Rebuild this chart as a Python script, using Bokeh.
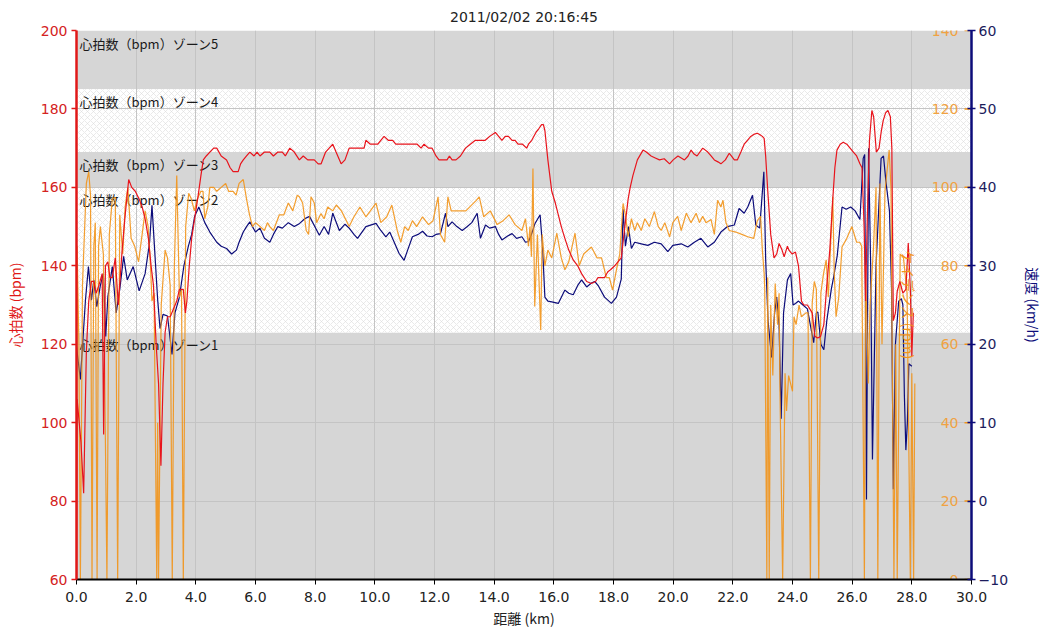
import numpy as np
from bokeh.plotting import figure
from bokeh.models import (LinearAxis, Range1d, FixedTicker, PrintfTickFormatter)
from bokeh.core.properties import value
from bokeh.embed import file_html
from bokeh.resources import INLINE

title_text = "2011/02/02 20:16:45"
x_label = "距離 (km)"
hr_label = "心拍数 (bpm)"
cad_label = "ケイデンス (rpm)"
spd_label = "速度 (km/h)"

x_ticks = [0, 2, 4, 6, 8, 10, 12, 14, 16, 18, 20, 22, 24, 26, 28, 30]
hr_ticks = [60, 80, 100, 120, 140, 160, 180, 200]
cad_ticks = [0, 20, 40, 60, 80, 100, 120, 140]
spd_ticks = [-10, 0, 10, 20, 30, 40, 50, 60]

zone_names = ["心拍数（bpm）ゾーン1", "心拍数（bpm）ゾーン2", "心拍数（bpm）ゾーン3",
              "心拍数（bpm）ゾーン4", "心拍数（bpm）ゾーン5"]
zone_lo = [60, 123, 160, 169, 185]
zone_hi = [123, 160, 169, 185, 200]
zone_hatched = [False, True, False, True, False]

hr_km = [0.00, 0.02, 0.15, 0.24, 0.33, 0.41, 0.5, 0.58, 0.66, 0.75, 0.86, 0.91, 0.97, 1.05, 1.12, 1.2,
         1.3, 1.4, 1.53, 1.62, 1.75, 1.85, 1.97, 2.1, 2.2, 2.3, 2.41, 2.5, 2.58, 2.67, 2.75, 2.83, 2.9,
         2.97, 3.05, 3.14, 3.25, 3.36, 3.45, 3.58, 3.65, 3.7, 3.78, 3.86, 3.96, 4.08, 4.17, 4.25, 4.35,
         4.47, 4.6, 4.7, 4.85, 5.03, 5.15, 5.25, 5.34, 5.42, 5.5, 5.59, 5.7, 5.81, 5.95, 6.05, 6.15,
         6.3, 6.48, 6.6, 6.75, 6.9, 7.0, 7.15, 7.3, 7.47, 7.6, 7.75, 7.97, 8.1, 8.2, 8.35, 8.47, 8.59,
         8.7, 8.87, 9.0, 9.14, 9.3, 9.5, 9.64, 9.7, 9.85, 10.0, 10.1, 10.2, 10.31, 10.45, 10.6, 10.7,
         10.8, 10.95, 11.1, 11.25, 11.42, 11.55, 11.65, 11.8, 11.92, 12.05, 12.15, 12.3, 12.42, 12.5,
         12.59, 12.72, 12.87, 13.04, 13.2, 13.37, 13.55, 13.7, 13.85, 14.04, 14.15, 14.26, 14.37,
         14.48, 14.6, 14.7, 14.8, 14.95, 15.09, 15.15, 15.26, 15.4, 15.5, 15.59, 15.65, 15.7, 15.8,
         15.93, 16.05, 16.15, 16.25, 16.37, 16.5, 16.65, 16.8, 16.93, 17.1, 17.26, 17.4, 17.48, 17.59,
         17.7, 17.81, 17.9, 18.04, 18.15, 18.26, 18.35, 18.49, 18.56, 18.65, 18.8, 18.99, 19.1, 19.26,
         19.4, 19.54, 19.7, 19.88, 20.0, 20.16, 20.27, 20.38, 20.5, 20.6, 20.7, 20.8, 20.99, 21.16,
         21.27, 21.38, 21.5, 21.6, 21.75, 21.88, 21.95, 22.05, 22.15, 22.27, 22.38, 22.49, 22.6, 22.7,
         22.82, 22.9, 22.99, 23.05, 23.1, 23.18, 23.27, 23.38, 23.47, 23.55, 23.65, 23.72, 23.83,
         23.88, 23.99, 24.1, 24.2, 24.3, 24.38, 24.5, 24.58, 24.66, 24.75, 24.85, 24.94, 25.05, 25.15,
         25.25, 25.35, 25.42, 25.49, 25.6, 25.7, 25.82, 25.93, 26.04, 26.15, 26.26, 26.33, 26.4,
         26.45, 26.5, 26.58, 26.66, 26.72, 26.81, 26.9, 26.97, 27.04, 27.12, 27.2, 27.28, 27.33,
         27.38, 27.45, 27.51, 27.6, 27.7, 27.8, 27.88, 27.95, 28.0, 28.05]
hr_bpm = [58, 106, 95, 82, 118, 131, 136, 136, 133, 135, 138, 97, 140, 141, 137, 137,
          142, 130, 144, 152, 162, 160, 159, 157, 155, 152, 147, 140, 135, 120, 110, 89, 110,
          123, 127, 127, 129, 131, 134, 134, 128, 131, 140, 147, 152, 158, 163, 167, 168,
          169, 170, 170, 168, 167, 165, 164, 164, 164, 166, 167, 168, 169, 168, 169, 168,
          169, 169, 168, 169, 169, 168, 170, 169, 167, 168, 167, 167, 166, 166, 169, 170, 171,
          169, 166, 167, 170, 170, 170, 170, 172, 171, 171, 171, 172, 173, 172, 172, 171,
          171, 171, 171, 171, 171, 170, 171, 170, 170, 168, 167, 167, 167, 168,
          167, 167, 168, 170, 171, 172, 172, 172, 173, 174, 173, 172, 173,
          173, 172, 172, 171, 171, 170, 171, 172, 174, 175, 176, 176, 174.5, 167,
          159, 156, 153, 150, 147, 144, 141.5, 140, 138, 136, 135.5, 136, 137, 137,
          137, 138.5, 139, 140, 141, 142, 148, 157, 160, 163, 167, 169.5, 169, 168,
          167.5, 167, 167.3, 166, 167, 168, 167.5, 167, 168, 169.5, 168.5, 168, 170, 169,
          168, 167, 166.5, 166, 167, 168.7, 168, 167, 167, 169, 171, 172, 173, 173.5,
          173.8, 173.5, 173, 172.5, 168, 158, 148, 142, 143, 145.7, 144, 142.3, 145,
          144, 143, 143.5, 140, 131, 130, 130, 129, 128, 122, 121.6, 122, 125, 135,
          144, 157, 165, 169.5, 171, 171.5, 171, 170, 169, 168, 166, 165, 150,
          131, 150, 172, 179.6, 178, 169, 170, 174, 177, 179, 179.6, 178, 170,
          126, 128, 133.5, 136, 133, 134, 145.8, 134, 117, 128]

spd_km = [0.00, 0.13, 0.3, 0.4, 0.5, 0.58, 0.68, 0.8, 0.9, 0.98, 1.05, 1.2, 1.33, 1.45, 1.58, 1.7,
          1.9, 2.1, 2.3, 2.45, 2.53, 2.62, 2.72, 2.8, 2.9, 3.05, 3.2, 3.3, 3.45, 3.6, 3.75, 3.86,
          3.96, 4.1, 4.3, 4.47, 4.7, 4.85, 5.03, 5.2, 5.36, 5.45, 5.59, 5.7, 5.81, 6.0, 6.15, 6.3,
          6.48, 6.6, 6.75, 6.9, 7.1, 7.3, 7.48, 7.65, 7.81, 8.14, 8.3, 8.45, 8.59, 8.81, 9.0, 9.14,
          9.3, 9.42, 9.7, 10.04, 10.2, 10.37, 10.5, 10.65, 10.81, 10.98, 11.1, 11.26, 11.45, 11.6,
          11.75, 11.92, 12.05, 12.2, 12.37, 12.45, 12.59, 12.75, 12.93, 13.1, 13.25, 13.43, 13.54,
          13.71, 13.85, 14.04, 14.15, 14.26, 14.45, 14.6, 14.75, 14.93, 15.05, 15.15, 15.25, 15.37,
          15.54, 15.62, 15.7, 15.8, 15.93, 16.15, 16.37, 16.5, 16.65, 16.8, 16.93, 17.1, 17.26,
          17.37, 17.5, 17.7, 17.93, 18.1, 18.26, 18.32, 18.4, 18.5, 18.6, 18.71, 18.93, 19.15,
          19.37, 19.6, 19.82, 19.99, 20.27, 20.49, 20.71, 20.93, 21.16, 21.38, 21.6, 21.82, 22.05,
          22.21, 22.38, 22.5, 22.66, 22.77, 22.9, 23.04, 23.1, 23.18, 23.3, 23.4, 23.47, 23.55,
          23.62, 23.7, 23.83, 23.94, 24.02, 24.1, 24.2, 24.35, 24.5, 24.62, 24.71, 24.8, 24.85,
          24.95, 25.05, 25.15, 25.3, 25.38, 25.5, 25.66, 25.8, 25.95, 26.1, 26.26, 26.37, 26.42,
          26.48, 26.55, 26.62, 26.68, 26.8, 26.97, 27.05, 27.13, 27.25, 27.32, 27.38, 27.45,
          27.56, 27.65, 27.7, 27.75, 27.8, 27.85, 27.9, 28.0]
spd_kmh = [19.7, 15.5, 25.6, 29.9, 25.6, 28.2, 24.8, 27.5, 29.0, 21.0, 26.0, 29.9, 24.0, 27.0, 31.2, 28.2,
           29.9, 26.8, 29.0, 33.0, 37.7, 32.0, 25.7, 22.0, 23.8, 23.6, 18.7, 24.0, 26.0, 30.0, 32.5, 34.0,
           36.3, 37.5, 35.5, 34.3, 33.0, 32.5, 32.2, 31.5, 32.0, 33.0, 34.3, 35.0, 35.6, 34.3, 34.8, 33.5,
           33.0, 34.0, 35.0, 34.8, 35.5, 35.0, 35.4, 36.0, 36.3, 33.9, 35.0, 34.0, 36.7, 34.5, 35.3, 34.8,
           34.0, 33.5, 35.0, 35.4, 34.5, 33.7, 34.3, 33.0, 31.6, 30.7, 32.0, 33.7, 34.0, 34.4,
           33.8, 33.7, 34.0, 34.1, 36.7, 35.0, 35.6, 35.0, 34.5, 35.0, 35.5, 36.7, 33.5,
           35.2, 34.8, 35.0, 34.0, 33.3, 33.8, 34.1, 33.5, 33.7, 33.0, 33.1, 34.0, 35.4,
           36.5, 32.5, 26.0, 25.5, 25.4, 25.2, 26.9, 26.5, 26.3, 27.5, 28.2, 27.3, 27.8,
           28.0, 27.4, 26.0, 25.2, 26.0, 28.3, 37.2, 32.5, 35.0, 32.2, 33.0, 32.8, 32.6,
           33.0, 32.8, 31.8, 32.6, 32.8, 32.4, 33.0, 33.5, 32.4, 33.0, 34.3, 35.0, 35.2,
           37.3, 36.7, 37.5, 39.0, 35.2, 34.8, 42.0, 30.9, 23.0, 18.3, 24.0, 26.0, 22.5,
           10.5, 24.0, 28.2, 29.0, 25.0, 25.2, 25.5, 25.0, 24.5, 22.0, 20.2, 24.0, 24.1,
           20.0, 19.3, 23.0, 27.0, 28.6, 31.3, 37.5, 37.2, 37.5, 37.0, 35.9, 43.7, 44.2,
           0.2, 45.0, 30.0, 5.3, 30.0, 43.7, 44.0, 40.8, 37.0, 27.0, 1.5, 20.0,
           25.5, 25.8, 25.0, 13.5, 6.5, 10.0, 17.5, 17.2]

cad_km = [0.00, 0.02, 0.08, 0.13, 0.2, 0.33, 0.41, 0.47, 0.52, 0.58, 0.63, 0.69, 0.74, 0.8, 0.9, 1.02,
          1.1, 1.2, 1.3, 1.38, 1.45, 1.55, 1.63, 1.72, 1.83, 1.95, 2.08, 2.2, 2.3, 2.4, 2.48, 2.53,
          2.6, 2.69, 2.72, 2.75, 2.84, 2.97, 3.05, 3.14, 3.21, 3.28, 3.36, 3.45, 3.52, 3.58, 3.66,
          3.76, 3.85, 3.95, 4.05, 4.17, 4.24, 4.3, 4.4, 4.47, 4.6, 4.7, 4.85, 5.0, 5.1, 5.25, 5.35,
          5.45, 5.59, 5.7, 5.8, 5.9, 6.0, 6.15, 6.3, 6.4, 6.48, 6.6, 6.8, 6.95, 7.1, 7.25, 7.4, 7.47,
          7.58, 7.7, 7.78, 7.86, 7.97, 8.05, 8.19, 8.3, 8.42, 8.59, 8.71, 8.88, 9.14, 9.3, 9.5, 9.7,
          9.85, 10.04, 10.2, 10.4, 10.57, 10.75, 10.87, 11.0, 11.12, 11.26, 11.4, 11.6, 11.8, 11.95,
          12.12, 12.2, 12.34, 12.45, 12.56, 12.73, 13.05, 13.4, 13.5, 13.65, 13.87, 14.1, 14.3, 14.5,
          14.7, 14.93, 15.05, 15.15, 15.2, 15.25, 15.3, 15.36, 15.45, 15.56, 15.61, 15.7, 15.8,
          15.93, 16.1, 16.25, 16.37, 16.5, 16.71, 16.85, 17.0, 17.26, 17.45, 17.6, 17.76, 17.86,
          17.97, 18.1, 18.21, 18.32, 18.4, 18.49, 18.6, 18.71, 18.8, 18.93, 19.05, 19.2, 19.37,
          19.5, 19.6, 19.72, 19.88, 19.99, 20.15, 20.27, 20.44, 20.6, 20.77, 20.88, 20.99, 21.1,
          21.27, 21.38, 21.49, 21.6, 21.67, 21.77, 21.88, 22.1, 22.3, 22.5, 22.7, 22.82, 22.93,
          22.99, 23.05, 23.07, 23.14, 23.17, 23.22, 23.27, 23.34, 23.42, 23.5, 23.55, 23.58, 23.67,
          23.75, 23.8, 23.87, 24.0, 24.05, 24.12, 24.22, 24.3, 24.45, 24.52, 24.6, 24.66, 24.73,
          24.8, 24.88, 24.95, 25.04, 25.13, 25.2, 25.35, 25.4, 25.46, 25.55, 25.66, 25.82, 25.99,
          26.15, 26.25, 26.32, 26.41, 26.45, 26.54, 26.6, 26.71, 26.8, 26.86, 26.93, 27.0, 27.1,
          27.24, 27.3, 27.4, 27.46, 27.51, 27.61, 27.72, 27.84, 27.95, 28.0, 28.06, 28.1]
cad_rpm = [0, 85, 60, 0, 75, 101, 104, 98, 0, 85, 91, 0, 85, 90, 83, 0,
           88, 97, 97.5, 0, 93, 83, 95, 100, 87, 85, 81, 88, 94, 90, 80, 71,
           73, 0, 40, 0, 70, 84, 82, 75, 0, 80, 103, 72, 74, 0, 90,
           98.5, 97, 94, 97, 99, 99, 92, 95, 100, 100, 99, 100, 101, 99, 99, 98,
           101, 102, 97, 93, 90, 91, 90, 89, 91, 90, 89, 93, 93, 96, 94, 98, 97.6,
           96, 89, 88, 97.6, 96, 91, 93.3, 92, 95, 94, 95.5, 94, 90, 92.5, 95, 92.5,
           94, 96, 91, 92.5, 95.5, 89, 86, 90, 89, 91.5, 90, 92.5, 90.5, 91.5,
           97.6, 88, 86, 97.6, 94, 94, 94, 96.7, 97.6, 92.5, 94, 90.5, 91.5, 93,
           90.5, 89, 92, 85, 90, 82.3, 104.8, 69.6, 88, 63.6, 88, 80, 84,
           82, 88.3, 82, 79, 81, 88.3, 80, 83, 84.8, 82, 82, 77, 77,
           73.8, 79, 83, 95.9, 93, 87.4, 92, 89, 91, 89, 92, 90, 93.8,
           90, 89, 91, 87.4, 91, 92.6, 89, 93.4, 91, 93.4, 91, 92.6, 91,
           91.8, 88, 96.7, 95, 96.7, 91, 89, 88.6, 88, 87.4, 87, 91.5, 92.6,
           84, 78, 74, 0, 77, 0, 70, 52, 75.5, 65, 73, 48, 0,
           52.6, 43, 52, 48, 67, 65, 70, 67, 68, 68, 0, 70.4, 76,
           74, 0, 73, 78, 81.5, 72, 97.6, 78, 67, 72, 84.8, 87, 90,
           86, 86, 85, 0, 80, 50, 70, 84, 100, 0, 101, 60, 99,
           109.5, 100, 0, 60, 0, 83, 82, 73, 0, 52.6, 0, 50]

HR_COLOR = "#e8141c"
CAD_COLOR = "#f29418"
SPD_COLOR = "#0c0c7a"
x_start, x_end = 0, 30

p = figure(width=1046, height=630, x_range=(x_start, x_end), y_range=(60, 200),
           output_backend="svg", toolbar_location=None,
           min_border_left=76, min_border_right=71, min_border_top=30, min_border_bottom=50)
p.extra_y_ranges = {"cad": Range1d(0, 140), "spd": Range1d(-10, 60)}
p.outline_line_color = None
p.background_fill_color = "white"

p.title.text = title_text
p.title.align = "center"
p.title.text_font = "DejaVu Sans"
p.title.text_font_size = "14px"
p.title.text_font_style = "normal"
p.title.text_color = "#222222"
p.title.standoff = 12

# zones
g_idx = [i for i, h in enumerate(zone_hatched) if not h]
h_idx = [i for i, h in enumerate(zone_hatched) if h]
p.quad(left=[x_start] * len(g_idx), right=[x_end] * len(g_idx),
       bottom=[zone_lo[i] for i in g_idx], top=[zone_hi[i] for i in g_idx],
       fill_color="#d6d6d6", line_color=None, level="image")
p.quad(left=[x_start] * len(h_idx), right=[x_end] * len(h_idx),
       bottom=[zone_lo[i] for i in h_idx], top=[zone_hi[i] for i in h_idx],
       fill_color="#ffffff", line_color=None, hatch_pattern="diagonal_cross",
       hatch_color="#dcdcdc", hatch_scale=6, hatch_weight=0.6, level="image")
p.text(x=[x_start] * len(zone_names), y=zone_hi, text=zone_names, x_offset=3, y_offset=3,
       text_baseline="top", text_align="left", text_font=value("Noto Sans CJK JP"),
       text_font_size="13px", text_color="#1a1a1a")

# grid
p.xgrid.ticker = FixedTicker(ticks=x_ticks)
p.ygrid.ticker = FixedTicker(ticks=hr_ticks)
p.xgrid.grid_line_color = "#c4c4c4"
p.ygrid.grid_line_color = "#c4c4c4"

# data
p.line(spd_km, spd_kmh, color=SPD_COLOR, line_width=1.2, y_range_name="spd")
p.line(cad_km, cad_rpm, color=CAD_COLOR, line_width=1.2, y_range_name="cad", alpha=0.9)
p.line(hr_km, hr_bpm, color=HR_COLOR, line_width=1.2)

# x axis
xa = p.xaxis[0]
xa.ticker = FixedTicker(ticks=x_ticks)
xa.formatter = PrintfTickFormatter(format="%.1f")
xa.axis_label = x_label
xa.axis_line_color = "black"
xa.axis_line_width = 2
xa.major_tick_line_color = "black"
xa.major_tick_out = 5
xa.major_tick_in = 0
xa.minor_tick_line_color = None
xa.major_label_text_font = "DejaVu Sans"
xa.major_label_text_font_size = "14px"
xa.major_label_text_color = "#222222"
xa.major_label_standoff = 7
xa.axis_label_text_font = "Noto Sans CJK JP"
xa.axis_label_text_font_size = "14px"
xa.axis_label_text_font_style = "normal"
xa.axis_label_text_color = "#222222"
xa.axis_label_standoff = 3

# left HR axis
ya = p.yaxis[0]
ya.ticker = FixedTicker(ticks=hr_ticks)
ya.axis_label = hr_label
ya.axis_line_color = "#e01818"
ya.axis_line_width = 2.5
ya.major_tick_line_color = "#e01818"
ya.major_tick_line_width = 1.5
ya.major_tick_out = 5
ya.major_tick_in = 0
ya.minor_tick_line_color = None
ya.major_label_standoff = 4
ya.major_label_text_font = "DejaVu Sans"
ya.major_label_text_font_size = "14px"
ya.major_label_text_color = "#d42222"
ya.axis_label_text_font = "Noto Sans CJK JP"
ya.axis_label_text_font_size = "14px"
ya.axis_label_text_font_style = "normal"
ya.axis_label_text_color = "#e01818"
ya.axis_label_standoff = 13

# right speed axis
sa = LinearAxis(y_range_name="spd", ticker=FixedTicker(ticks=spd_ticks), axis_label=spd_label)
sa.axis_line_color = SPD_COLOR
sa.axis_line_width = 2.5
sa.major_tick_line_color = SPD_COLOR
sa.major_tick_line_width = 1.5
sa.major_tick_out = 4
sa.major_tick_in = 4
sa.minor_tick_line_color = None
sa.major_label_text_font = "DejaVu Sans"
sa.major_label_text_font_size = "14px"
sa.major_label_text_color = "#1c1c5c"
sa.major_label_standoff = 3
sa.axis_label_text_font = "Noto Sans CJK JP"
sa.axis_label_text_font_size = "14px"
sa.axis_label_text_font_style = "normal"
sa.axis_label_text_color = SPD_COLOR
sa.axis_label_standoff = 12
p.add_layout(sa, "right")

# cadence axis drawn inside the plot
p.ray(x=[x_end] * len(cad_ticks), y=cad_ticks, length=7, length_units="screen", angle=np.pi,
      color=CAD_COLOR, line_width=1.5, y_range_name="cad")
p.text(x=[x_end] * len(cad_ticks), y=cad_ticks, text=[str(t) for t in cad_ticks], x_offset=-13,
       text_align="right", text_baseline="middle", text_font=value("DejaVu Sans"),
       text_font_size="14px", text_color="#f0a242", y_range_name="cad")
p.text(x=[x_end], y=[70], text=[cad_label], x_offset=-63, angle=-np.pi / 2,
       text_align="center", text_baseline="middle", text_font=value("Noto Sans CJK JP"),
       text_font_size="14px", text_color=CAD_COLOR, y_range_name="cad")

open("out.html", "w").write(file_html(p, INLINE))
